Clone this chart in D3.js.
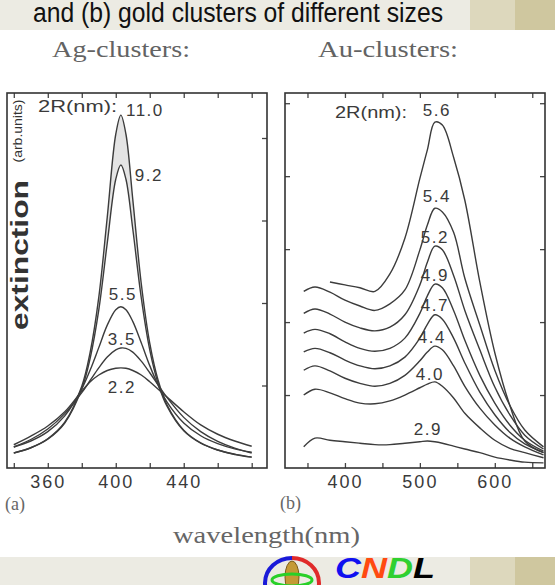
<!DOCTYPE html>
<html>
<head>
<meta charset="utf-8">
<script src="https://cdn.jsdelivr.net/npm/d3@7"></script>
<style>
body { margin: 0; background: #fff; }
svg { display: block; }
</style>
</head>
<body>
<div id="chart"></div>
<script>
// ---- data ----
// (a) silver clusters, extinction in arb. units
var agWavelength = [340, 350, 360, 370, 380, 385, 390, 395, 400, 403, 406, 410, 415, 420, 425, 430, 440, 450, 460, 470, 480];
var agSizes = ["11.0", "9.2", "5.5", "3.5", "2.2"];
var ag110 = [0.40, 0.54, 0.78, 1.22, 2.18, 3.10, 4.55, 6.69, 8.90, 9.41, 8.90, 7.17, 4.92, 3.33, 2.33, 1.70, 1.01, 0.67, 0.48, 0.37, 0.29];
var ag92  = [0.40, 0.54, 0.77, 1.20, 2.11, 2.94, 4.21, 6.00, 7.70, 8.08, 7.70, 6.38, 4.54, 3.15, 2.24, 1.66, 0.99, 0.66, 0.48, 0.36, 0.29];
var ag55  = [0.56, 0.72, 0.97, 1.39, 2.11, 2.62, 3.21, 3.81, 4.22, 4.30, 4.22, 3.91, 3.34, 2.73, 2.20, 1.77, 1.20, 0.86, 0.65, 0.51, 0.42];
var ag35  = [0.56, 0.76, 1.04, 1.45, 2.01, 2.34, 2.67, 2.96, 3.15, 3.20, 3.19, 3.09, 2.85, 2.54, 2.21, 1.89, 1.35, 0.97, 0.71, 0.53, 0.40];
var ag22  = [0.62, 0.85, 1.12, 1.50, 2.05, 2.30, 2.48, 2.60, 2.66, 2.67, 2.66, 2.60, 2.48, 2.30, 2.10, 1.90, 1.50, 1.15, 0.90, 0.72, 0.58];
var agSeries = [ag110, ag92, ag55, ag35, ag22];
var agTicks = [340, 360, 380, 400, 420, 440, 460, 480];
var agTickLabels = [360, 400, 440];

// (b) gold clusters
var auWavelength = [345, 360, 380, 400, 420, 440, 460, 480, 500, 510, 520, 530, 545, 560, 580, 600, 620, 640, 665];
var auSizes = ["5.6", "5.4", "5.2", "4.9", "4.7", "4.4", "4.0", "2.9"];
var au56 = [null, null, 2.55, 2.51, 2.47, 2.42, 2.66, 3.15, 3.97, 4.36, 4.74, 4.70, 4.26, 3.67, 2.55, 1.58, 0.86, 0.37, 0.21];
var au54 = [2.42, 2.48, 2.41, 2.30, 2.22, 2.16, 2.25, 2.44, 2.99, 3.33, 3.56, 3.51, 3.23, 2.60, 1.96, 1.34, 0.86, 0.52, 0.29];
var au52 = [2.12, 2.18, 2.11, 2.00, 1.92, 1.88, 1.93, 2.10, 2.51, 2.82, 3.04, 2.99, 2.64, 2.16, 1.62, 1.11, 0.73, 0.45, 0.26];
var au49 = [1.85, 1.90, 1.84, 1.73, 1.64, 1.60, 1.64, 1.78, 2.12, 2.36, 2.52, 2.47, 2.16, 1.75, 1.27, 0.89, 0.59, 0.38, 0.23];
var au47 = [1.59, 1.64, 1.58, 1.48, 1.40, 1.36, 1.40, 1.52, 1.78, 1.97, 2.10, 2.04, 1.78, 1.44, 1.04, 0.73, 0.49, 0.33, 0.21];
var au44 = [1.34, 1.40, 1.33, 1.23, 1.16, 1.12, 1.16, 1.27, 1.47, 1.59, 1.67, 1.62, 1.40, 1.12, 0.82, 0.59, 0.41, 0.29, 0.18];
var au40 = [1.00, 1.08, 1.03, 0.95, 0.89, 0.88, 0.92, 1.00, 1.10, 1.15, 1.18, 1.12, 0.96, 0.75, 0.55, 0.38, 0.27, 0.21, 0.14];
var au29 = [0.29, 0.41, 0.38, 0.36, 0.34, 0.32, 0.32, 0.34, 0.36, 0.37, 0.36, 0.34, 0.30, 0.26, 0.21, 0.15, 0.11, 0.08, 0.07];
var auSeries = [au56, au54, au52, au49, au47, au44, au40, au29];
var auTicks = [350, 400, 450, 500, 550, 600, 650];
var auTickLabels = [400, 500, 600];

// ---- layout ----
var width = 555, height = 585;
var ink = "#3a3a3a";
var sans = "'Liberation Sans', Arial, sans-serif";
var serif = "'Liberation Serif', 'Times New Roman', serif";

var svg = d3.select("#chart")
    .append("svg")
        .attr("width", width)
        .attr("height", height);

var xA = d3.scaleLinear().domain([336, 489]).range([7, 267]);
var yA = d3.scaleLinear().domain([0, 10]).range([468, 93]);
var xB = d3.scaleLinear().domain([320, 667]).range([285, 545]);
var yB = d3.scaleLinear().domain([0, 5.14]).range([468, 93]);

// slide banners
function banner(y, h) {
    svg.append("rect").attr("x", 0).attr("y", y).attr("width", width).attr("height", h).attr("fill", "#ecebe3");
    svg.append("rect").attr("x", 470).attr("y", y).attr("width", 85).attr("height", h).attr("fill", "#ddd8bd");
    svg.append("rect").attr("x", 515).attr("y", y).attr("width", 40).attr("height", h).attr("fill", "#cfc79f");
}
banner(0, 30);
banner(557, 28);

svg.append("text")
    .attr("x", 33).attr("y", 22)
    .attr("font-family", sans).attr("font-size", 27).attr("fill", "#111")
    .attr("textLength", 410).attr("lengthAdjust", "spacingAndGlyphs")
    .text("and (b) gold clusters of different sizes");

// panel titles
svg.append("text").attr("x", 52).attr("y", 57)
    .attr("font-family", serif).attr("font-size", 24).attr("fill", "#636363")
    .attr("textLength", 138).attr("lengthAdjust", "spacingAndGlyphs")
    .text("Ag-clusters:");
svg.append("text").attr("x", 318).attr("y", 57)
    .attr("font-family", serif).attr("font-size", 24).attr("fill", "#636363")
    .attr("textLength", 140).attr("lengthAdjust", "spacingAndGlyphs")
    .text("Au-clusters:");

function frame(x, y, xTicks, xLabels, yTicks, leftTicks) {
    var g = svg.append("g");
    var x0 = x.range()[0], x1 = x.range()[1], y0 = y.range()[0], y1 = y.range()[1];

    g.append("g")
        .attr("transform", "translate(0," + y0 + ")")
        .call(d3.axisBottom(x).tickValues(xTicks).tickSize(-5).tickPadding(7)
            .tickFormat(function(d) { return xLabels.indexOf(d) >= 0 ? d : ""; }));
    g.append("g")
        .attr("transform", "translate(0," + y1 + ")")
        .call(d3.axisBottom(x).tickValues(xTicks).tickSize(5).tickFormat(""));
    g.append("g")
        .attr("transform", "translate(" + x1 + ",0)")
        .call(d3.axisLeft(y).tickValues(yTicks).tickSize(5).tickFormat(""));
    if (leftTicks) {
        g.append("g")
            .attr("transform", "translate(" + x0 + ",0)")
            .call(d3.axisRight(y).tickValues(yTicks).tickSize(5).tickFormat(""));
    }
    g.selectAll(".domain").remove();
    g.selectAll(".tick line").attr("stroke", "#444").attr("stroke-width", 1.3);
    g.selectAll(".tick text")
        .attr("font-family", sans).attr("font-size", 18).attr("fill", ink)
        .attr("letter-spacing", "2px");

    g.append("rect")
        .attr("x", x0).attr("y", y1)
        .attr("width", x1 - x0).attr("height", y0 - y1)
        .attr("fill", "none").attr("stroke", "#333").attr("stroke-width", 1.6);
}

frame(xA, yA, agTicks, agTickLabels, [2.2, 4.4, 6.6, 8.8], false);
frame(xB, yB, auTicks, auTickLabels, [1, 2, 3, 4, 5], true);

// (a) curves
var agArea = d3.area()
    .curve(d3.curveCatmullRom)
    .x(function(d, i) { return xA(agWavelength[i]); })
    .y0(function(d, i) { return yA(ag92[i]); })
    .y1(function(d, i) { return yA(ag110[i]); });
svg.append("path").datum(ag110).attr("d", agArea).attr("fill", "#e4e4e4");

var agLine = d3.line()
    .curve(d3.curveCatmullRom)
    .x(function(d, i) { return xA(agWavelength[i]); })
    .y(function(d) { return yA(d); });

svg.selectAll(".line-ag")
    .data(agSeries)
    .enter().append("path")
        .attr("class", "line-ag")
        .attr("d", agLine)
        .attr("fill", "none").attr("stroke", "#3c3c3c").attr("stroke-width", 1.4);

// (b) curves
var auLine = d3.line()
    .curve(d3.curveCatmullRom)
    .defined(function(d) { return d !== null; })
    .x(function(d, i) { return xB(auWavelength[i]); })
    .y(function(d) { return yB(d); });

svg.selectAll(".line-au")
    .data(auSeries)
    .enter().append("path")
        .attr("class", "line-au")
        .attr("d", auLine)
        .attr("fill", "none").attr("stroke", "#3c3c3c").attr("stroke-width", 1.4);

// size labels
var agLabelShift = [[24, 1], [28, 16], [2, -7], [1, -3], [1, 25]];
agSeries.forEach(function(s, k) {
    var m = d3.maxIndex(s);
    svg.append("text")
        .attr("x", xA(agWavelength[m]) + agLabelShift[k][0])
        .attr("y", yA(s[m]) + agLabelShift[k][1])
        .attr("text-anchor", "middle")
        .attr("font-family", sans).attr("font-size", 17).attr("fill", ink)
        .attr("letter-spacing", "1.5px")
        .text(agSizes[k]);
});

var auLabelShift = [[2, -6], [2, -6], [0, -3], [0, -3], [0, -4], [-3, -3], [-5, -2], [-7, -3]];
auSeries.forEach(function(s, k) {
    var m = d3.maxIndex(s);
    svg.append("text")
        .attr("x", xB(520) + auLabelShift[k][0])
        .attr("y", yB(s[m]) + auLabelShift[k][1])
        .attr("text-anchor", "middle")
        .attr("font-family", sans).attr("font-size", 17).attr("fill", ink)
        .attr("letter-spacing", "1.5px")
        .text(auSizes[k]);
});

svg.append("text").attr("x", 38).attr("y", 112)
    .attr("font-family", sans).attr("font-size", 16).attr("fill", ink)
    .attr("textLength", 79).attr("lengthAdjust", "spacingAndGlyphs")
    .text("2R(nm):");
svg.append("text").attr("x", 335).attr("y", 118)
    .attr("font-family", sans).attr("font-size", 16).attr("fill", ink)
    .attr("textLength", 72).attr("lengthAdjust", "spacingAndGlyphs")
    .text("2R(nm):");

// y label (sits inside frame a, as in the scan)
svg.append("text")
    .attr("transform", "translate(28,255) rotate(-90)")
    .attr("text-anchor", "middle")
    .attr("font-family", sans).attr("font-size", 24).attr("font-weight", "bold").attr("fill", "#333")
    .attr("textLength", 150).attr("lengthAdjust", "spacingAndGlyphs")
    .text("extinction");
svg.append("text")
    .attr("transform", "translate(22,131) rotate(-90)")
    .attr("text-anchor", "middle")
    .attr("font-family", sans).attr("font-size", 13).attr("fill", "#333")
    .attr("textLength", 63).attr("lengthAdjust", "spacingAndGlyphs")
    .text("(arb.units)");

// panel letters and x label
svg.append("text").attr("x", 5).attr("y", 510)
    .attr("font-family", serif).attr("font-size", 18).attr("fill", "#666").text("(a)");
svg.append("text").attr("x", 280).attr("y", 509)
    .attr("font-family", serif).attr("font-size", 18).attr("fill", "#666").text("(b)");
svg.append("text").attr("x", 173).attr("y", 543)
    .attr("font-family", serif).attr("font-size", 23).attr("fill", "#666")
    .attr("textLength", 187).attr("lengthAdjust", "spacingAndGlyphs")
    .text("wavelength(nm)");

// CNDL logo
var logo = svg.append("g");
logo.append("path").attr("d", "M292,558 A27,25 0 0,0 292,608")
    .attr("fill", "none").attr("stroke", "#1a1ad8").attr("stroke-width", 4);
logo.append("path").attr("d", "M292,558 A27,25 0 0,1 292,608")
    .attr("fill", "none").attr("stroke", "#e02a2a").attr("stroke-width", 4);
logo.append("ellipse").attr("cx", 292).attr("cy", 577).attr("rx", 7).attr("ry", 16)
    .attr("fill", "#c49a35").attr("stroke", "#7a5a18").attr("stroke-width", 1);
logo.append("ellipse").attr("cx", 292).attr("cy", 580).attr("rx", 20).attr("ry", 6)
    .attr("fill", "none").attr("stroke", "#28d028").attr("stroke-width", 3);

var cndl = logo.append("text").attr("x", 335).attr("y", 578)
    .attr("font-family", sans).attr("font-size", 29)
    .attr("font-weight", "bold").attr("font-style", "italic")
    .attr("textLength", 100).attr("lengthAdjust", "spacingAndGlyphs");
[["C", "#1010f0"], ["N", "#ff4a10"], ["D", "#30d030"], ["L", "#000"]].forEach(function(c) {
    cndl.append("tspan").attr("fill", c[1]).text(c[0]);
});
</script>
</body>
</html>
